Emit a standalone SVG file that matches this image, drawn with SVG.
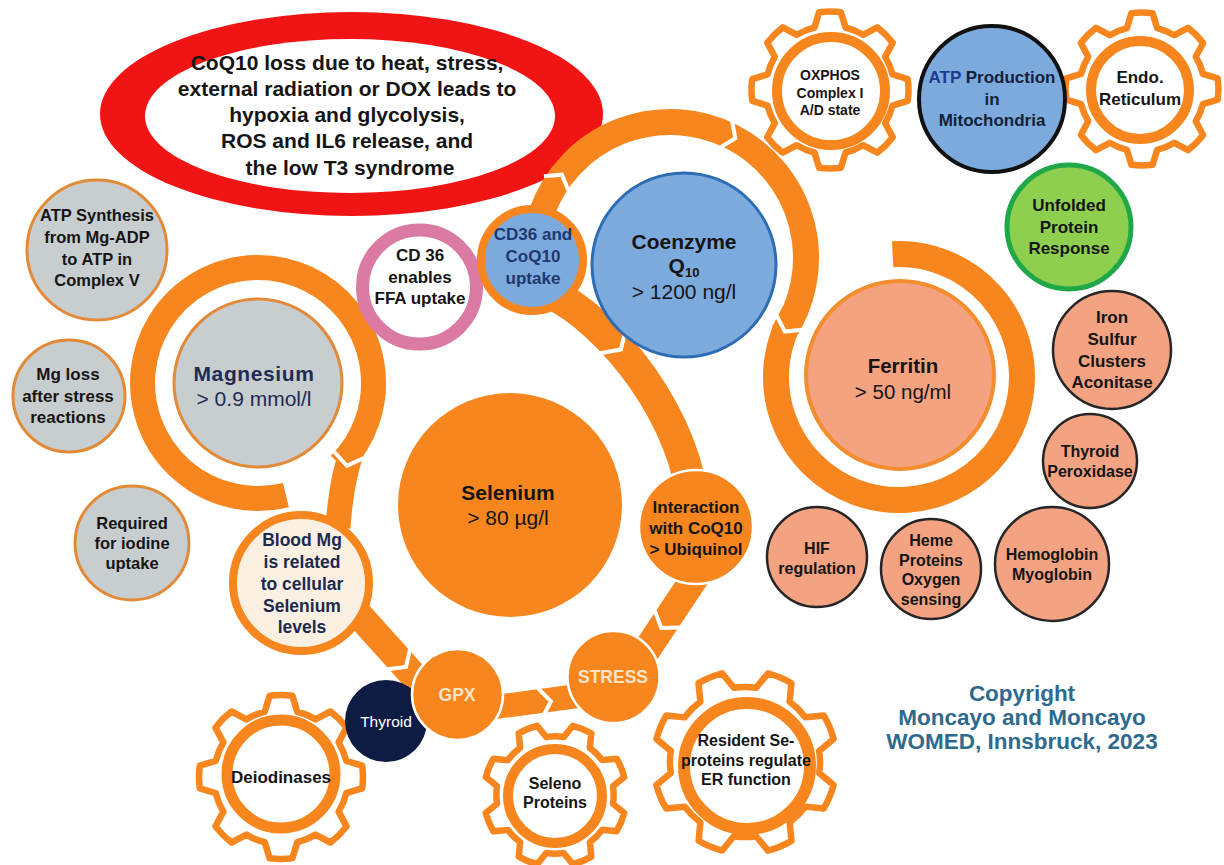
<svg xmlns="http://www.w3.org/2000/svg" width="1224" height="865" viewBox="0 0 1224 865">
<defs>
<style>
.t{font-family:"Liberation Sans",Arial,Helvetica,sans-serif;font-weight:700;text-anchor:middle;fill:#151515}
.reg{font-weight:400}
.band{fill:none;stroke:#F7861E;stroke-linecap:butt}
.cut{fill:none;stroke:#fff;stroke-width:4;stroke-linejoin:miter}
.org{fill:#F7861E}
.orgw{fill:#F7861E;stroke:#fff;stroke-width:2.5}
.gear{fill:#fff;stroke:#F7861E;stroke-linejoin:round}
.ring{fill:none;stroke:#F7861E}
.gray{fill:#C8CDD0;stroke:#E28A38;stroke-width:3}
.salmon{fill:#F3A282;stroke:#262626;stroke-width:2.5}
.blue{fill:#7DAADD}
.navy{fill:#1E2B52}
.cream{fill:#FBE3C8}
</style>
<!-- eight-tooth gear outline, tip radius 100 -->
<path id="gear" d="M 79.6 -19.8 L 99 -13.9 A 100 100 0 0 1 99 13.9 L 79.6 19.8 A 82 82 0 0 1 70.3 42.2 L 79.9 60.2 A 100 100 0 0 1 60.2 79.9 L 42.2 70.3 A 82 82 0 0 1 19.8 79.6 L 13.9 99 A 100 100 0 0 1 -13.9 99 L -19.8 79.6 A 82 82 0 0 1 -42.2 70.3 L -60.2 79.9 A 100 100 0 0 1 -79.9 60.2 L -70.3 42.2 A 82 82 0 0 1 -79.6 19.8 L -99 13.9 A 100 100 0 0 1 -99 -13.9 L -79.6 -19.8 A 82 82 0 0 1 -70.3 -42.2 L -79.9 -60.2 A 100 100 0 0 1 -60.2 -79.9 L -42.2 -70.3 A 82 82 0 0 1 -19.8 -79.6 L -13.9 -99 A 100 100 0 0 1 13.9 -99 L 19.8 -79.6 A 82 82 0 0 1 42.2 -70.3 L 60.2 -79.9 A 100 100 0 0 1 79.9 -60.2 L 70.3 -42.2 A 82 82 0 0 1 79.6 -19.8 Z"/>
</defs>
<rect width="1224" height="865" fill="#fff"/>

<!-- headline ellipse -->
<g id="headline">
<ellipse cx="351.5" cy="114" rx="251.5" ry="102" fill="#F01414"/>
<ellipse cx="350" cy="116" rx="205" ry="77" fill="#fff"/>
<text class="t" font-size="21">
<tspan x="350" y="70">CoQ10 loss due to heat, stress,</tspan>
<tspan x="350" y="96">external radiation or DOX leads to</tspan>
<tspan x="350" y="122">hypoxia and glycolysis,</tspan>
<tspan x="350" y="148">ROS and IL6 release, and</tspan>
<tspan x="350" y="175">the low T3 syndrome</tspan>
</text>
</g>

<!-- circular arrow bands and their chevron joints -->
<g id="connectors">
<path class="band" stroke-width="25" d="M 285.9 495.1 A 115.5 115.5 0 1 1 339.7 464.7"/>
<path class="band" stroke-width="25" d="M 353 448 Q 341 480 338 528"/>
<path class="band" stroke-width="28" d="M 350 605 L 440 705"/>
<path class="band" stroke-width="24" d="M 495 707 L 578 696"/>
<path class="band" stroke-width="28" d="M 700 570 L 640 660"/>
<path class="band" stroke-width="32" d="M 548 292 C 610 320 690 420 694 515"/>
<path class="band" stroke-width="26" d="M 542.2 211.5 A 136 136 0 1 1 782.7 334.1"/>
<path class="band" stroke-width="26" d="M 794.7 311.8 A 123 123 0 1 0 892.6 254.2"/>
<polyline class="cut" points="334.3,452 347,465.8 363.7,458"/>
<polyline class="cut" points="385.4,669.4 406,666.9 410.6,646.6"/>
<polyline class="cut" points="542.2,717.8 550.9,701.4 537.8,688.2"/>
<polyline class="cut" points="682.1,627.4 661.3,628 653.9,608.6"/>
<polyline class="cut" points="597.5,353.8 620.9,349.4 626.5,326.2"/>
<polyline class="cut" points="731.8,119.2 735.3,138.3 718.8,148.4"/>
<polyline class="cut" points="544,176.2 561.9,174.7 569.3,192.6"/>
<polyline class="cut" points="804.2,329.4 784.9,331.6 776,314.4"/>
</g>

<!-- gears -->
<g id="oxphos">
<use href="#gear" class="gear" transform="translate(830 90) scale(0.785)" style="stroke-width:8.3"/>
<circle class="ring" cx="831" cy="91" r="54" stroke-width="10"/>
<text class="t" font-size="14"><tspan x="830" y="80">OXPHOS</tspan><tspan x="830" y="98">Complex I</tspan><tspan x="830" y="115">A/D state</tspan></text>
</g>
<g id="endo-reticulum">
<use href="#gear" class="gear" transform="translate(1142 89) scale(0.765)" style="stroke-width:8.5"/>
<circle class="ring" cx="1140" cy="90" r="49" stroke-width="10"/>
<text class="t" font-size="17"><tspan x="1140" y="83">Endo.</tspan><tspan x="1140" y="105">Reticulum</tspan></text>
</g>
<g id="deiodinases">
<use href="#gear" class="gear" transform="translate(281 777) scale(0.82)" style="stroke-width:8"/>
<circle class="ring" cx="281" cy="774" r="54" stroke-width="11"/>
<text class="t" font-size="17" x="281" y="783">Deiodinases</text>
</g>
<g id="seleno-proteins">
<use href="#gear" class="gear" transform="translate(555 795) rotate(22.5) scale(0.715)" style="stroke-width:9.1"/>
<circle class="ring" cx="555" cy="796" r="47" stroke-width="10"/>
<text class="t" font-size="16"><tspan x="555" y="789">Seleno</tspan><tspan x="555" y="808">Proteins</tspan></text>
</g>
<g id="resident-se-proteins">
<use href="#gear" class="gear" transform="translate(745 762) rotate(22.5) scale(0.915)" style="stroke-width:7.1"/>
<circle class="ring" cx="747" cy="766" r="63" stroke-width="12"/>
<text class="t" font-size="16"><tspan x="746" y="746">Resident Se-</tspan><tspan x="746" y="766">proteins regulate</tspan><tspan x="746" y="785">ER function</tspan></text>
</g>

<!-- left column -->
<g id="atp-synthesis">
<circle class="gray" cx="97" cy="250" r="70"/>
<text class="t" font-size="16.5"><tspan x="97" y="221">ATP Synthesis</tspan><tspan x="97" y="243">from Mg-ADP</tspan><tspan x="97" y="265">to ATP in</tspan><tspan x="97" y="286">Complex V</tspan></text>
</g>
<g id="mg-loss">
<circle class="gray" cx="69" cy="396" r="56"/>
<text class="t" font-size="17"><tspan x="68" y="380">Mg loss</tspan><tspan x="68" y="402">after stress</tspan><tspan x="68" y="423">reactions</tspan></text>
</g>
<g id="iodine-uptake">
<circle class="gray" cx="132" cy="543" r="57"/>
<text class="t" font-size="16.5"><tspan x="132" y="529">Required</tspan><tspan x="132" y="549">for iodine</tspan><tspan x="132" y="569">uptake</tspan></text>
</g>
<g id="magnesium">
<circle class="gray" cx="258" cy="383" r="84"/>
<text class="t navy" font-size="21" x="254" y="381" letter-spacing="0.6">Magnesium</text>
<text class="t reg navy" font-size="21" x="254" y="406">&gt; 0.9 mmol/l</text>
</g>
<g id="blood-mg">
<circle cx="301" cy="583" r="68" fill="#FCF0E3" stroke="#F7861E" stroke-width="8"/>
<text class="t" font-size="17.5" style="fill:#1B2A4E"><tspan x="302" y="546">Blood Mg</tspan><tspan x="302" y="568">is related</tspan><tspan x="302" y="590">to cellular</tspan><tspan x="302" y="612">Selenium</tspan><tspan x="302" y="633">levels</tspan></text>
</g>

<!-- centre column -->
<g id="cd36-ffa">
<circle cx="419.5" cy="287" r="57" fill="#fff" stroke="#DB7AA2" stroke-width="13"/>
<text class="t" font-size="17"><tspan x="420" y="261">CD 36</tspan><tspan x="420" y="283">enables</tspan><tspan x="420" y="304">FFA uptake</tspan></text>
</g>
<g id="cd36-coq10">
<circle class="blue" cx="532" cy="260" r="51" stroke="#F7861E" stroke-width="8"/>
<text class="t" font-size="17" style="fill:#20386E"><tspan x="533" y="240">CD36 and</tspan><tspan x="533" y="262">CoQ10</tspan><tspan x="533" y="284">uptake</tspan></text>
</g>
<g id="coenzyme-q10">
<circle class="blue" cx="684" cy="265" r="92" stroke="#2D6DB5" stroke-width="3"/>
<text class="t" font-size="21" x="684" y="249">Coenzyme</text>
<text class="t" font-size="21" x="684" y="273">Q<tspan font-size="13" dy="4">10</tspan></text>
<text class="t reg" font-size="21" x="684" y="299">&gt; 1200 ng/l</text>
</g>
<g id="selenium">
<circle class="org" cx="510" cy="505" r="112"/>
<text class="t" font-size="21" x="508" y="500">Selenium</text>
<text class="t reg" font-size="21" x="508" y="525">&gt; 80 µg/l</text>
</g>
<g id="interaction">
<circle class="orgw" cx="696" cy="527" r="57"/>
<text class="t" font-size="17"><tspan x="696" y="513">Interaction</tspan><tspan x="696" y="534">with CoQ10</tspan><tspan x="696" y="555">&gt; Ubiquinol</tspan></text>
</g>
<g id="stress">
<circle class="orgw" cx="613.5" cy="677" r="46"/>
<text class="t cream" font-size="17.5" x="613" y="683">STRESS</text>
</g>
<g id="thyroid">
<circle cx="386" cy="721" r="41" fill="#0E1C44"/>
<text class="t reg" font-size="15.5" x="386" y="727" style="fill:#fff">Thyroid</text>
</g>
<g id="gpx">
<circle class="orgw" cx="457.5" cy="694.5" r="45.5"/>
<text class="t cream" font-size="17.5" x="457" y="701">GPX</text>
</g>

<!-- right column -->
<g id="atp-production">
<circle class="blue" cx="992" cy="99" r="73" stroke="#111" stroke-width="4"/>
<text class="t" font-size="17" style="fill:#14213A"><tspan x="992" y="83"><tspan style="fill:#1E3A8A">ATP</tspan> Production</tspan><tspan x="992" y="105">in</tspan><tspan x="992" y="126">Mitochondria</tspan></text>
</g>
<g id="unfolded-protein">
<circle cx="1069" cy="227" r="62" fill="#8FCF4F" stroke="#20A848" stroke-width="5"/>
<text class="t" font-size="17"><tspan x="1069" y="211">Unfolded</tspan><tspan x="1069" y="233">Protein</tspan><tspan x="1069" y="254">Response</tspan></text>
</g>
<g id="ferritin">
<circle cx="900" cy="375" r="94" fill="#F4A27F" stroke="#F48D2E" stroke-width="4"/>
<text class="t" font-size="20.5" x="903" y="373">Ferritin</text>
<text class="t reg" font-size="20.5" x="903" y="399">&gt; 50 ng/ml</text>
</g>
<g id="iron-sulfur">
<circle class="salmon" cx="1112" cy="350" r="59"/>
<text class="t" font-size="17"><tspan x="1112" y="323">Iron</tspan><tspan x="1112" y="345">Sulfur</tspan><tspan x="1112" y="367">Clusters</tspan><tspan x="1112" y="388">Aconitase</tspan></text>
</g>
<g id="thyroid-peroxidase">
<circle class="salmon" cx="1090" cy="461" r="47"/>
<text class="t" font-size="16"><tspan x="1090" y="457">Thyroid</tspan><tspan x="1090" y="477">Peroxidase</tspan></text>
</g>
<g id="hemoglobin">
<circle class="salmon" cx="1052" cy="564" r="57"/>
<text class="t" font-size="16"><tspan x="1052" y="560">Hemoglobin</tspan><tspan x="1052" y="580">Myoglobin</tspan></text>
</g>
<g id="heme-proteins">
<circle class="salmon" cx="931" cy="569" r="50"/>
<text class="t" font-size="16"><tspan x="931" y="546">Heme</tspan><tspan x="931" y="566">Proteins</tspan><tspan x="931" y="585">Oxygen</tspan><tspan x="931" y="605">sensing</tspan></text>
</g>
<g id="hif">
<circle class="salmon" cx="817" cy="557" r="50"/>
<text class="t" font-size="16"><tspan x="817" y="554">HIF</tspan><tspan x="817" y="574">regulation</tspan></text>
</g>

<g id="copyright">
<text class="t" font-size="22.5" style="fill:#2E6A8E"><tspan x="1022" y="701">Copyright</tspan><tspan x="1022" y="725">Moncayo and Moncayo</tspan><tspan x="1022" y="749">WOMED, Innsbruck, 2023</tspan></text>
</g>
</svg>
